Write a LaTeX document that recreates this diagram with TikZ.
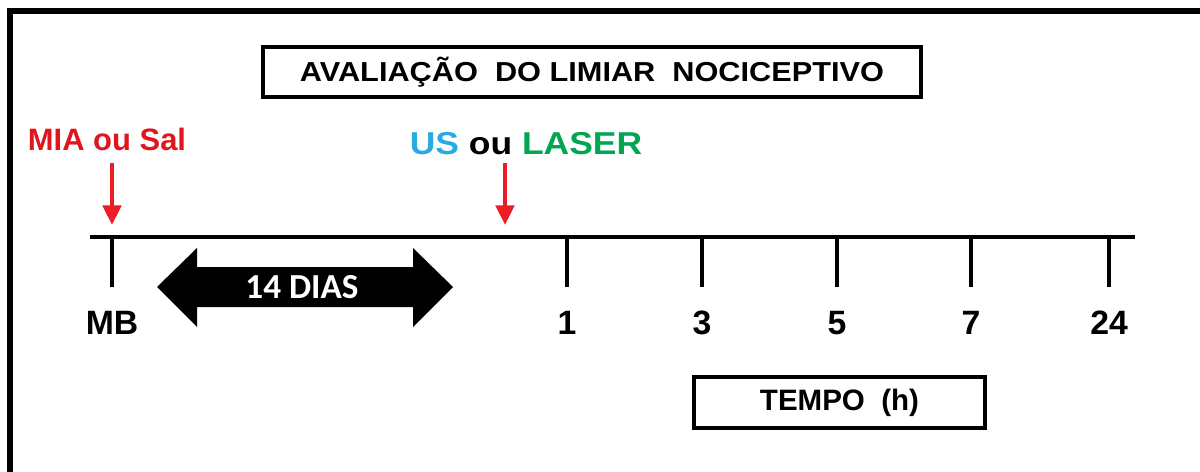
\documentclass[tikz,border=0pt]{standalone}
\usepackage{fontspec}
\setmainfont{Liberation Sans}
\newfontfamily\widefont[FakeStretch=1.12]{Liberation Sans}
\newfontfamily\daysfont{Carlito}
\usetikzlibrary{arrows.meta}
\tikzstyle{frame_box}=[rectangle,
        draw=black,
        line width=2.9pt,
        inner sep=0pt, ]
\tikzstyle{tick_label}=[font=\fontsize{24}{27}\selectfont\bfseries]
\tikzstyle{red_arrow}=[draw=arrowred,
        line width=2.9pt,
        -{Triangle[width=13pt,length=14pt]}, ]
\definecolor{arrowred}{HTML}{EE1C25}
\definecolor{textred}{HTML}{E0161E}
\definecolor{usblue}{HTML}{29ABE2}
\definecolor{lasergreen}{HTML}{00A651}

\begin{document}
\begin{tikzpicture}[x=0.025cm, y=-0.025cm]
    \useasboundingbox (0,0) rectangle (1200,472);
    \begin{scope}
        \clip (0,0) rectangle (1200,472);
        \draw[line width=4.3pt] (1200,11) -- (10,11) -- (10,472);
    \end{scope}

    \node at (592, 72) (title) [frame_box, minimum width=16.45cm, minimum height=1.25cm,
        font=\widefont\fontsize{19.5}{22}\selectfont\bfseries] {AVALIAÇÃO\ \ DO LIMIAR\ \ NOCICEPTIVO};
    \node at (839.5, 402.5) (tempo) [frame_box, minimum width=7.275cm, minimum height=1.275cm,
        font=\fontsize{21}{24}\selectfont\bfseries] {TEMPO\ \ (h)};

    \node at (107, 139) (mia) [font=\fontsize{22}{25}\selectfont\bfseries, text=textred] {MIA ou Sal};
    \node at (526, 144) (laser) [font=\widefont\fontsize{22.5}{25}\selectfont\bfseries]
        {\textcolor{usblue}{US} ou \textcolor{lasergreen}{LASER}};

    \coordinate [] (line_start) at (90, 237);
    \coordinate [] (line_end) at (1135, 237);
    \draw[line width=2.9pt] (line_start) -- (line_end);

    \foreach \tx/\tl/\tn in {112/MB/mb, 567/1/h1, 702/3/h3, 837/5/h5, 971/7/h7, 1109/24/h24} {
        \coordinate [] (T\tn) at (\tx, 237);
        \coordinate [] (B\tn) at (\tx, 287);
        \draw[line width=2.9pt] (T\tn) -- (B\tn);
        \node at (\tx, 323) (L\tn) [tick_label] {\tl};
    }

    \coordinate [] (mia_start) at (112, 163);
    \coordinate [] (mia_tip) at (112, 225);
    \coordinate [] (laser_start) at (505, 163);
    \coordinate [] (laser_tip) at (505, 225);
    \draw[red_arrow] (mia_start) -- (mia_tip);
    \draw[red_arrow] (laser_start) -- (laser_tip);

    \fill[black] (157,287) -- (197,248) -- (197,267) -- (413,267) -- (413,248) -- (453,287)
        -- (413,327) -- (413,307) -- (197,307) -- (197,327) -- cycle;
    \node at (302, 287) (days) [font=\daysfont\fontsize{25}{28}\selectfont\bfseries, text=white] {14 DIAS};

\end{tikzpicture}
\end{document}
